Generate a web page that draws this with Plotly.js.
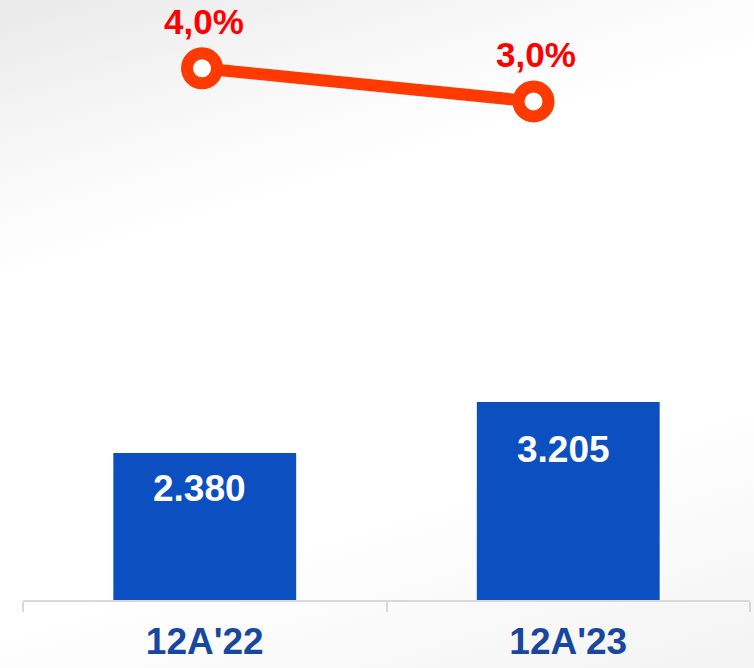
<!DOCTYPE html>
<html>
<head>
<meta charset="utf-8">
<script src="https://cdn.plot.ly/plotly-3.0.1.min.js"></script>
<style>
  html, body { margin: 0; padding: 0; }
  body {
    width: 754px; height: 668px; overflow: hidden;
    background: linear-gradient(163deg, #e9e9e9 0%, #f4f4f4 14%, #fbfbfb 24%, #ffffff 32%, #ffffff 70%, #f3f3f3 100%);
  }
  #chart { width: 754px; height: 668px; }
</style>
</head>
<body>
<div id="chart"></div>
<script>
// ---- data ----
const categories = ["12A'22", "12A'23"];
const barValues = [2380, 3205];
const barLabels = ["2.380", "3.205"];
const rateValues = [4.0, 3.0];
const rateLabels = ["4,0%", "3,0%"];

const FONT = "'Liberation Sans', Arial, Helvetica, sans-serif";

const bars = {
  type: 'bar',
  x: categories,
  y: barValues,
  marker: { color: '#0b4fc1', line: { width: 0 } },
  hoverinfo: 'skip',
  xaxis: 'x', yaxis: 'y'
};

const line = {
  type: 'scatter',
  mode: 'lines+markers',
  x: categories,
  y: rateValues,
  line: { color: '#ff3a00', width: 12 },
  marker: { symbol: 'circle', size: 30, color: '#ffffff', line: { color: '#ff3a00', width: 12 } },
  hoverinfo: 'skip',
  cliponaxis: false,
  xaxis: 'x2', yaxis: 'y2'
};

const annotations = [];
categories.forEach((c, i) => {
  annotations.push({
    x: c, y: barValues[i] * 0.76, xref: 'x', yref: 'y',
    text: barLabels[i], showarrow: false, xshift: -5,
    yanchor: 'middle', xanchor: 'center',
    font: { family: FONT, size: 37, color: '#ffffff', weight: 'bold' }
  });
  annotations.push({
    x: c, y: rateValues[i], xref: 'x2', yref: 'y2',
    text: rateLabels[i], showarrow: false, yshift: 47, xshift: 2,
    yanchor: 'middle', xanchor: 'center',
    font: { family: FONT, size: 35, color: '#ff0000', weight: 'bold' }
  });
});

const layout = {
  width: 754, height: 668,
  margin: { l: 23, r: 4, t: 0, b: 68 },
  paper_bgcolor: 'rgba(0,0,0,0)',
  plot_bgcolor: 'rgba(0,0,0,0)',
  showlegend: false,
  bargap: 0.497,
  font: { family: FONT },
  xaxis: {
    type: 'category',
    range: [-0.5, 1.5],
    showgrid: false, zeroline: false,
    showline: true, linecolor: '#d9d9d9', linewidth: 2,
    ticks: 'outside', tickson: 'boundaries', ticklen: 10, tickwidth: 2, tickcolor: '#d9d9d9',
    tickfont: { family: FONT, size: 37, color: '#17479e', weight: 'bold' },
    ticklabelstandoff: 8,
    fixedrange: true
  },
  yaxis: {
    range: [0, 9713], visible: false, showgrid: false, zeroline: false, fixedrange: true
  },
  xaxis2: {
    type: 'category', overlaying: 'x', range: [-0.540, 1.653], visible: false, fixedrange: true
  },
  yaxis2: {
    overlaying: 'y', range: [-12.015, 6.057], visible: false, showgrid: false, zeroline: false, fixedrange: true
  },
  annotations: annotations
};

Plotly.newPlot('chart', [bars, line], layout, { displayModeBar: false, staticPlot: true });
</script>
</body>
</html>
